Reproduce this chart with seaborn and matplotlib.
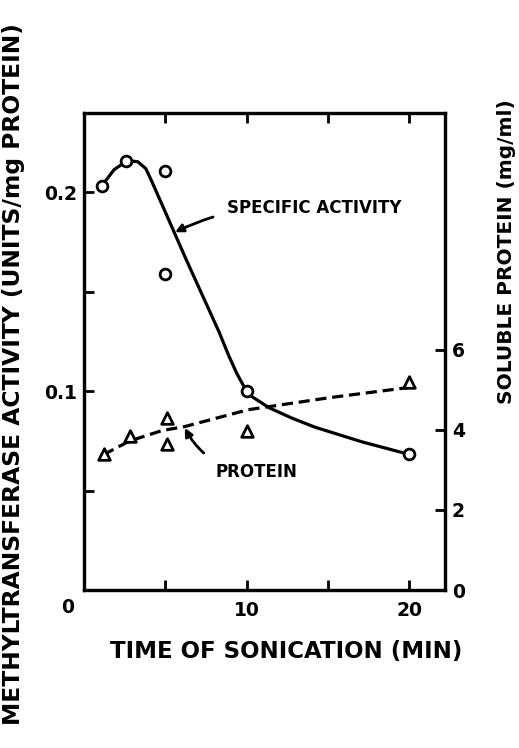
import matplotlib
matplotlib.use("Agg")
import matplotlib.pyplot as plt
import seaborn as sns

# ---- data ----
act_time = [1.1, 2.6, 5.0, 5.0, 10.0, 20.0]
act_value = [0.2035, 0.216, 0.211, 0.159, 0.100, 0.0685]

prot_time = [1.2, 2.8, 5.1, 5.1, 10.0, 20.0]
prot_value = [3.4, 3.85, 4.3, 3.65, 3.98, 5.2]

# hand-drawn fitted curves
act_curve_t = [1.1, 1.85, 2.65, 3.3, 3.8, 4.2, 6.3, 8.3, 8.9, 9.4, 9.8, 10.3, 11.4, 12.8, 14.2, 17.1, 19.9]
act_curve_v = [0.2035, 0.2115, 0.216, 0.2155, 0.212, 0.205, 0.166, 0.130, 0.118, 0.109, 0.103, 0.0975, 0.0917, 0.0865, 0.082, 0.0746, 0.0685]

prot_curve_t = [1.2, 2.8, 4.8, 6.2, 10.1, 15.1, 19.9]
prot_curve_v = [3.38, 3.72, 3.98, 4.08, 4.5, 4.8, 5.05]

x_ticks = [5, 10, 15, 20]
x_ticklabels = ["", "10", "", "20"]
left_ticks = [0.05, 0.1, 0.15, 0.2]
left_ticklabels = ["", "0.1", "", "0.2"]
right_ticks = [0, 2, 4, 6]
right_ticklabels = ["0", "2", "4", "6"]

sns.set_style("ticks")
plt.rcParams["font.family"] = ["DejaVu Sans"]
plt.rcParams["font.weight"] = "bold"
plt.rcParams["text.color"] = "black"
plt.rcParams["axes.labelcolor"] = "black"
plt.rcParams["xtick.color"] = "black"
plt.rcParams["ytick.color"] = "black"

fig = plt.figure(figsize=(5.19, 7.48), dpi=100)
ax = fig.add_axes([0.162, 0.211, 0.695, 0.638])
ax2 = ax.twinx()

lw = 2.3
sns.lineplot(x=act_curve_t, y=act_curve_v, ax=ax, color="black", lw=lw, sort=False)
sns.scatterplot(x=act_time, y=act_value, ax=ax, marker="o", s=60,
                facecolor="white", edgecolor="black", linewidth=2, zorder=5)

sns.lineplot(x=prot_curve_t, y=prot_curve_v, ax=ax2, color="black", lw=lw,
             linestyle=(0, (3.5, 1.8)), sort=False)
sns.scatterplot(x=prot_time, y=prot_value, ax=ax2, marker="^", s=70,
                facecolor="white", edgecolor="black", linewidth=2, zorder=5)

ax.set_xlim(0, 22.2)
ax.set_ylim(0, 0.24)
ax2.set_ylim(0, 11.9)

for a in (ax, ax2):
    for s in a.spines.values():
        s.set_linewidth(2.3)
        s.set_color("black")

ax.set_xticks(x_ticks)
ax.set_xticklabels(x_ticklabels)
ax.set_yticks(left_ticks)
ax.set_yticklabels(left_ticklabels)
ax.tick_params(axis="both", direction="in", length=7, width=2, labelsize=13.5, pad=6,
               colors="black")
ax.tick_params(axis="x", top=True, pad=8)
ax.tick_params(axis="y", right=False, pad=5)

ax2.set_yticks(right_ticks)
ax2.set_yticklabels(right_ticklabels)
ax2.tick_params(axis="y", direction="in", length=7, width=2, labelsize=13.5, pad=5,
                colors="black")

for lab in ax.get_xticklabels() + ax.get_yticklabels() + ax2.get_yticklabels():
    lab.set_fontweight("bold")

# origin label
ax.text(-1.0, -0.004, "0", ha="center", va="top", fontsize=13.5, fontweight="bold",
        color="black")

ax.set_xlabel("TIME OF SONICATION (MIN)", fontsize=16.5, fontweight="bold", color="black")
ax.xaxis.set_label_coords(0.56, -0.105)
ax.set_ylabel("METHYLTRANSFERASE ACTIVITY (UNITS/mg PROTEIN)", fontsize=16.8,
              fontweight="bold", color="black")
ax.yaxis.set_label_coords(-0.165, 0.453)
ax2.set_ylabel("SOLUBLE PROTEIN (mg/ml)", fontsize=14.5, fontweight="bold", color="black")
ax2.yaxis.set_label_coords(1.145, 0.71)

# annotations
ax.annotate("SPECIFIC ACTIVITY", xy=(5.6, 0.18), xytext=(8.8, 0.192),
            fontsize=12, fontweight="bold", va="center", ha="left", color="black",
            arrowprops=dict(arrowstyle="-|>", color="black", lw=2,
                            connectionstyle="arc3,rad=0.15",
                            shrinkA=8, shrinkB=0, mutation_scale=12))
ax.annotate("PROTEIN", xy=(6.2, 0.0816), xytext=(8.1, 0.0594),
            fontsize=12, fontweight="bold", va="center", ha="left", color="black",
            arrowprops=dict(arrowstyle="-|>", color="black", lw=2,
                            connectionstyle="arc3,rad=-0.3",
                            shrinkA=8, shrinkB=0, mutation_scale=12))

fig.savefig("out.png", dpi=100, facecolor="white")
